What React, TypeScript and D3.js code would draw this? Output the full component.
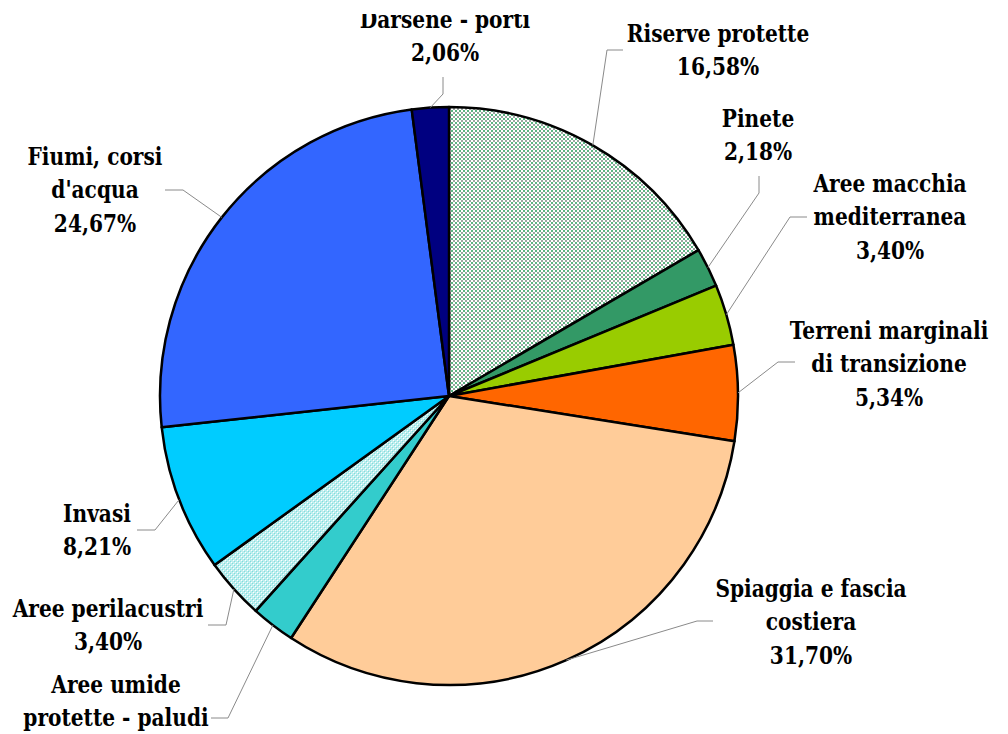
import React from "react";
import * as d3 from "d3";

const categories = [
  "Riserve protette",
  "Pinete",
  "Aree macchia mediterranea",
  "Terreni marginali di transizione",
  "Spiaggia e fascia costiera",
  "Aree umide protette - paludi",
  "Aree perilacustri",
  "Invasi",
  "Fiumi, corsi d'acqua",
  "Darsene - porti",
];
const values = [16.58, 2.18, 3.4, 5.34, 31.7, 2.46, 3.4, 8.21, 24.67, 2.06];
const labelLines = [
  ["Riserve protette"],
  ["Pinete"],
  ["Aree macchia", "mediterranea"],
  ["Terreni marginali", "di transizione"],
  ["Spiaggia e fascia", "costiera"],
  ["Aree umide", "protette - paludi"],
  ["Aree perilacustri"],
  ["Invasi"],
  ["Fiumi, corsi", "d'acqua"],
  ["Darsene - porti"],
];
// whether the percentage line is visible inside the picture
const showPct = [true, true, true, true, true, false, true, true, true, true];
const fills = [
  "url(#patRiserve)",
  "#339966",
  "#99CC00",
  "#FF6600",
  "#FFCC99",
  "#33CCCC",
  "url(#patPeri)",
  "#00CCFF",
  "#3366FF",
  "#000080",
];

// layout: label center x, first baseline y, and leader elbow points
const labelLayout = [
  { x: 718, y: 42, p1: [623, 50], p2: [607, 50] },
  { x: 758, y: 127, p1: [759, 176], p2: [759, 193] },
  { x: 890, y: 192, p1: [807, 217], p2: [790, 217] },
  { x: 889, y: 339, p1: [795, 362], p2: [778, 362] },
  { x: 811, y: 597, p1: [713, 621], p2: [697, 621] },
  { x: 116, y: 693, p1: [211, 718], p2: [228, 718] },
  { x: 108, y: 617, p1: [208, 625], p2: [226, 625] },
  { x: 97, y: 522, p1: [137, 530], p2: [155, 530] },
  { x: 95, y: 165, p1: [165, 190], p2: [183, 190] },
  { x: 445, y: 28, p1: [443, 77], p2: [443, 94] },
];

const W = 1008;
const H = 734;
const cx = 449;
const cy = 396;
const R = 289;
const lineH = 33.5;
const FONT = "'DejaVu Serif', 'Liberation Serif', serif";

const fmt = (v: number) => v.toFixed(2).replace(".", ",") + "%";

export default function App() {
  const pie = d3.pie<number>().sort(null).value((d) => d);
  const arcs = pie(values);
  const arcGen = d3.arc<d3.PieArcDatum<number>>().innerRadius(0).outerRadius(R);

  return (
    <svg
      width={W}
      height={H}
      style={{ position: "absolute", left: 0, top: 0, background: "#fff" }}
    >
      <defs>
        <pattern id="patRiserve" width={4} height={4} patternUnits="userSpaceOnUse">
          <rect width={4} height={4} fill="#ffffff" />
          <rect x={0} y={0} width={2} height={2} fill="#9aa5a0" />
          <rect x={2} y={2} width={2} height={2} fill="#5cb482" />
        </pattern>
        <pattern id="patPeri" width={4} height={4} patternUnits="userSpaceOnUse">
          <rect width={4} height={4} fill="#bdeeee" />
          <rect x={0} y={0} width={1} height={1} fill="#ffffff" />
          <rect x={2} y={2} width={1} height={1} fill="#ffffff" />
          <rect x={1} y={1} width={1} height={1} fill="#7fdcdc" />
          <rect x={3} y={3} width={1} height={1} fill="#7fdcdc" />
        </pattern>
        <clipPath id="topClip" clipPathUnits="userSpaceOnUse">
          <rect x={0} y={14} width={W} height={H} />
        </clipPath>
      </defs>
      <g transform={`translate(${cx},${cy})`}>
        {arcs.map((a, i) => (
          <path
            key={categories[i]}
            d={arcGen(a) || ""}
            fill={fills[i]}
            stroke="#000"
            strokeWidth={2.5}
            strokeLinejoin="round"
          />
        ))}
      </g>
      {arcs.map((a, i) => {
        const mid = (a.startAngle + a.endAngle) / 2;
        const ex = cx + R * Math.sin(mid);
        const ey = cy - R * Math.cos(mid);
        const L = labelLayout[i];
        return (
          <polyline
            key={"l" + i}
            points={`${L.p1[0]},${L.p1[1]} ${L.p2[0]},${L.p2[1]} ${ex},${ey}`}
            fill="none"
            stroke="#8a8a8a"
            strokeWidth={1}
          />
        );
      })}
      {arcs.map((a, i) => {
        const L = labelLayout[i];
        const lines = showPct[i] ? [...labelLines[i], fmt(values[i])] : labelLines[i];
        return (
          <g key={"t" + i} clipPath={i === 9 ? "url(#topClip)" : undefined}>
            <g transform={`translate(${L.x},0) scale(0.84,1)`}>
              <text
                x={0}
                y={L.y}
                textAnchor="middle"
                style={{ fontFamily: FONT, fontSize: "24px", fontWeight: 700 }}
                fill="#000"
              >
                {lines.map((ln, j) => (
                  <tspan key={j} x={0} y={L.y + j * lineH}>
                    {ln}
                  </tspan>
                ))}
              </text>
            </g>
          </g>
        );
      })}
    </svg>
  );
}
